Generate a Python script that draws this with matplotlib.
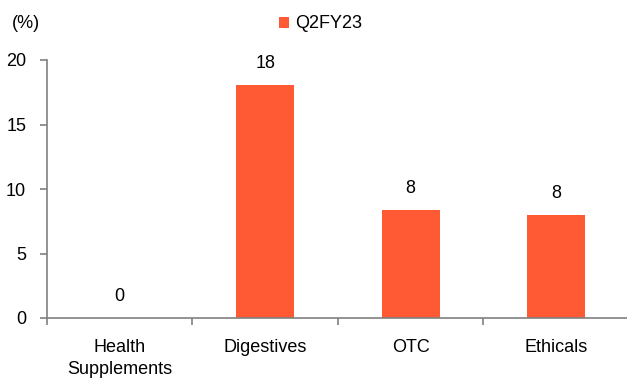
import matplotlib.pyplot as plt

categories = ['Health\nSupplements', 'Digestives', 'OTC', 'Ethicals']
values = [0.0, 18.1, 8.4, 8.0]
labels = ['0', '18', '8', '8']
series_name = 'Q2FY23'

plt.rcParams['font.family'] = ['Liberation Sans', 'DejaVu Sans']
plt.rcParams['font.size'] = 13

fig = plt.figure(figsize=(6.27, 3.81), dpi=100)
ax = fig.add_axes([47 / 627, 1 - 318 / 381, 582 / 627, 258 / 381])

x = list(range(len(categories)))
ax.bar(x, values, width=0.4, color='#FF5A33', label=series_name, zorder=2)
for xi, v, lab in zip(x, values, labels):
    ax.text(xi, v + 1.0, lab, ha='center', va='bottom', color='black')

ax.set_xlim(-0.5, len(categories) - 0.5)
ax.set_ylim(0, 20)
ax.set_yticks([0, 5, 10, 15, 20])
ax.set_xticks([i - 0.5 for i in range(len(categories) + 1)])
ax.set_xticklabels([])
ax.set_xticks(x, minor=True)
ax.set_xticklabels(categories, minor=True)
ax.tick_params(axis='x', which='minor', length=0, pad=15)
ax.tick_params(axis='x', which='major', length=5, color='#808080', width=1.2)
ax.tick_params(axis='y', length=5, color='#808080', width=1.2, pad=10)
for lab in ax.get_xticklabels(minor=True):
    lab.set_linespacing(1.4)

for side in ['top', 'right']:
    ax.spines[side].set_visible(False)
for side in ['left', 'bottom']:
    ax.spines[side].set_color('#808080')
    ax.spines[side].set_linewidth(1.2)

fig.text(12 / 627, 1 - 24 / 381, '(%)', ha='left', va='center')
ax.legend(loc='center', bbox_to_anchor=(321 / 627, 1 - 24 / 381), bbox_transform=fig.transFigure,
          frameon=False, handlelength=0.55, handleheight=0.55, handletextpad=0.35)

fig.savefig('out.png', dpi=100)
